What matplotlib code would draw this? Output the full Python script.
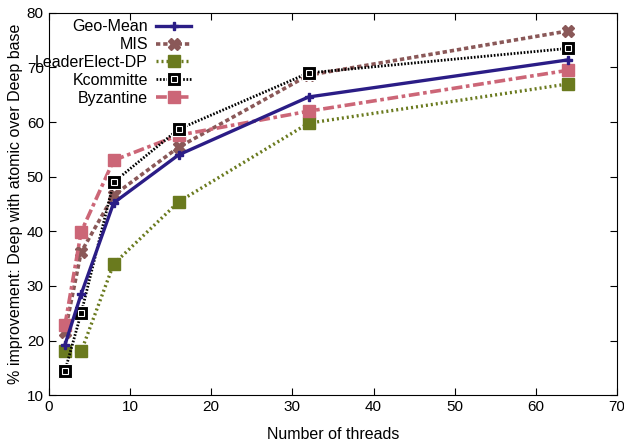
import matplotlib
matplotlib.use("Agg")
import matplotlib.pyplot as plt
from matplotlib.lines import Line2D

plt.rcParams['font.family'] = ['Liberation Sans', 'DejaVu Sans']
plt.rcParams['font.size'] = 11

threads = [2, 4, 8, 16, 32, 64]
geo_mean = [19.2, 28.5, 45.2, 54.0, 64.6, 71.4]
mis = [21.5, 36.2, 46.6, 55.4, 68.6, 76.7]
leader = [18.0, 18.0, 34.0, 45.4, 59.8, 67.0]
kcommitte = [14.4, 25.0, 49.0, 58.7, 69.0, 73.5]
byzantine = [22.8, 39.9, 53.0, 57.6, 62.0, 69.5]

fig = plt.figure(figsize=(6.24, 4.44), dpi=100)
ax = fig.add_axes([0.078, 0.11, 0.911, 0.861])

ax.plot(threads, geo_mean, color='#2b1d86', lw=2.4, ls='-',
        marker='P', ms=6, mec='#2b1d86', label='Geo-Mean', zorder=5)
ax.plot(threads, mis, color='#8a5858', lw=2.6, ls=(0, (1.2, 0.8)),
        marker='X', ms=8.5, mec='#8a5858', label='MIS', zorder=3)
ax.plot(threads, leader, color='#6a7a1e', lw=2.4, ls=(0, (0.6, 0.9)),
        marker='s', ms=8, mec='#6a7a1e', label='LeaderElect-DP', zorder=3)
ax.plot(threads, kcommitte, color='black', lw=2.0, ls=(0, (0.6, 0.6)),
        marker='s', ms=10.5, mec='white', mew=0.8, zorder=4)
ax.plot(threads, kcommitte, ls='none', marker='s', ms=4, mfc='none',
        mec='white', mew=0.8, zorder=4)
ax.plot(threads, byzantine, color='#cc6677', lw=2.6, ls=(0, (3, 1, 1, 1)),
        marker='s', ms=8, mec='#cc6677', label='Byzantine', zorder=3)

k_handle = (Line2D([], [], color='black', lw=2.0, ls=(0, (0.6, 0.6)),
                   marker='s', ms=10.5, mec='white', mew=0.8),
            Line2D([], [], ls='none', marker='s', ms=4, mfc='none',
                   mec='white', mew=0.8))
handles, labels = ax.get_legend_handles_labels()
handles.insert(3, k_handle)
labels.insert(3, 'Kcommitte')
ax.legend(handles, labels, loc='upper left', frameon=False, markerfirst=False,
          handlelength=2.2, handletextpad=0.5, labelspacing=0.18,
          borderaxespad=0.0, bbox_to_anchor=(-0.035, 1.0), fontsize=11.5)

ax.set_xlim(0, 70)
ax.set_ylim(10, 80)
ax.set_xticks(range(0, 71, 10))
ax.set_yticks(range(10, 81, 10))
ax.tick_params(direction='in', top=True, right=True, length=5, labelsize=11)
ax.set_xlabel('Number of threads', labelpad=9, fontsize=11.5)
ax.set_ylabel('% improvement: Deep with atomic over Deep base', fontsize=11.5,
              labelpad=3)

fig.savefig('out.png', dpi=100)
